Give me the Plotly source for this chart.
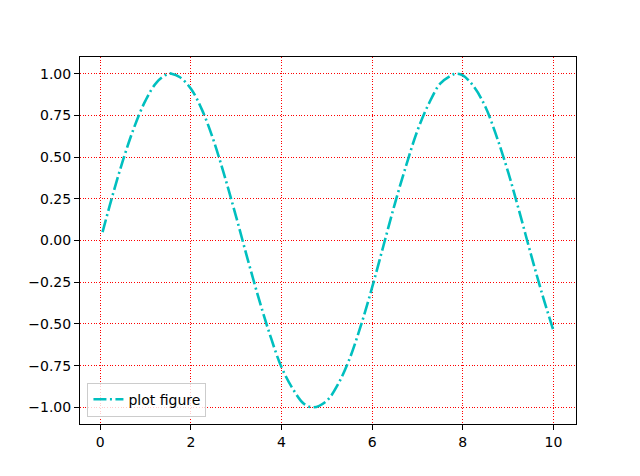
import plotly.graph_objects as go

x_vals = [0.05, 0.25, 0.5, 0.75, 1.0, 1.25, 1.5, 1.57, 1.75, 2.0, 2.25, 2.5, 2.75, 3.0,
          3.25, 3.5, 3.75, 4.0, 4.25, 4.5, 4.71, 5.0, 5.25, 5.5, 5.75, 6.0, 6.25, 6.5,
          6.75, 7.0, 7.25, 7.5, 7.75, 7.85, 8.0, 8.25, 8.5, 8.75, 9.0, 9.25, 9.5, 9.75, 10.0]
y_vals = [0.05, 0.25, 0.48, 0.68, 0.84, 0.95, 1.00, 1.00, 0.98, 0.91, 0.78, 0.60, 0.38, 0.14,
          -0.11, -0.35, -0.57, -0.76, -0.89, -0.98, -1.00, -0.96, -0.86, -0.71, -0.51, -0.28, -0.03, 0.22,
          0.45, 0.66, 0.82, 0.94, 0.99, 1.00, 0.99, 0.92, 0.80, 0.62, 0.41, 0.17, -0.08, -0.32, -0.54]
x_ticks = [0, 2, 4, 6, 8, 10]
y_ticks = [-1.0, -0.75, -0.5, -0.25, 0.0, 0.25, 0.5, 0.75, 1.0]

fig = go.Figure()
fig.add_trace(go.Scatter(
    x=x_vals, y=y_vals, mode="lines", name="plot figure",
    line=dict(color="#00bfbf", width=2.6, dash="13px,3.5px,2px,3.5px", shape="spline"),
))

axis_common = dict(
    showline=True, linecolor="black", linewidth=1, mirror=True,
    ticks="outside", ticklen=5, tickwidth=1, tickcolor="black",
    showgrid=True, gridcolor="red", gridwidth=1, griddash="1px,1.7px",
    zeroline=False, tickfont=dict(family="DejaVu Sans", size=14, color="black"),
)

fig.update_layout(
    width=640, height=476,
    margin=dict(l=72, r=72, t=49, b=60),
    paper_bgcolor="white", plot_bgcolor="white",
    showlegend=True,
    legend=dict(x=0.015, y=0.02, xanchor="left", yanchor="bottom",
                bgcolor="rgba(255,255,255,0.8)", bordercolor="#cccccc", borderwidth=1,
                font=dict(family="DejaVu Sans", size=14, color="black")),
    xaxis=dict(range=[-0.4475, 10.4975], tickvals=x_ticks, ticktext=[str(v) for v in x_ticks], **axis_common),
    yaxis=dict(range=[-1.1, 1.1], tickvals=y_ticks,
               ticktext=[f"{v:.2f}".replace("-", "\u2212") for v in y_ticks], **axis_common),
)

fig.write_html("out.html")
